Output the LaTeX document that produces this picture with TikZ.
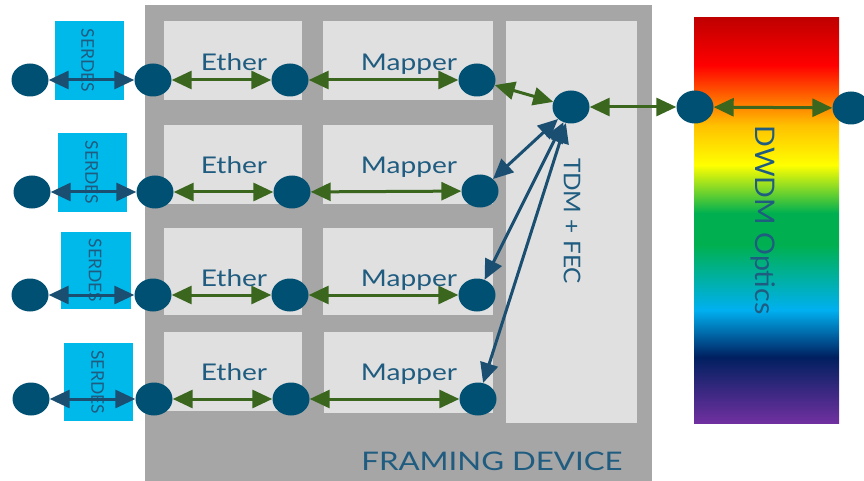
\documentclass[tikz,border=0pt]{standalone}
\usepackage{fontspec}
\setmainfont{Lato}
\newfontfamily\widefont{Lato}[FakeStretch=1.22]
\newfontfamily\midfont{Lato}[FakeStretch=1.06]
\usetikzlibrary{arrows.meta,shapes.geometric}
\definecolor{framegray}{HTML}{A6A6A6}
\definecolor{boxgray}{HTML}{E0E0E0}
\definecolor{serdescyan}{HTML}{00B9EB}
\definecolor{dotblue}{HTML}{005073}
\definecolor{txtblue}{HTML}{1F5C80}
\definecolor{arrgreen}{HTML}{3A661E}
\definecolor{arrblue}{HTML}{1A4F72}
\definecolor{cDR}{HTML}{C00000}
\definecolor{cR}{HTML}{FF0000}
\definecolor{cA}{HTML}{FFC000}
\definecolor{cY}{HTML}{FFFF00}
\definecolor{cG}{HTML}{00B050}
\definecolor{cLB}{HTML}{00B0F0}
\definecolor{cN}{HTML}{002060}
\definecolor{cP}{HTML}{7030A0}
\pgfdeclareverticalshading{dwdm}{100bp}{color(0bp)=(cP); color(25bp)=(cP); color(33.15bp)=(cN); color(38.95bp)=(cLB); color(46.98bp)=(cG); color(50.93bp)=(cG); color(56.85bp)=(cY); color(61.79bp)=(cA); color(69.2bp)=(cR); color(75bp)=(cDR); color(100bp)=(cDR)}
\tikzset{
  dot/.style={ellipse, fill=dotblue, minimum width=37pt, minimum height=33pt, inner sep=0pt},
  lbox/.style={fill=boxgray, inner sep=0pt, anchor=north west},
  sbox/.style={fill=serdescyan, inner sep=0pt, anchor=north west},
  lbl/.style={text=txtblue, font=\widefont\fontsize{23}{26}\selectfont, inner sep=0pt, anchor=base},
  rlbl/.style={text=txtblue, inner sep=0pt, rotate=-90},
  slbl/.style={text=txtblue, font=\fontsize{17.5}{20}\selectfont, inner sep=0pt, rotate=-90},
  tips/.style={{Triangle[length=20pt,width=18pt]}-{Triangle[length=20pt,width=18pt]}},
  garr/.style={draw=arrgreen, line width=3pt, tips},
  barr/.style={draw=arrblue, line width=3pt, tips}
}
\begin{document}
\begin{tikzpicture}[x=1pt,y=-1pt]
\useasboundingbox (0,0) rectangle (864,481);
% framing device
\node[fill=framegray, inner sep=0pt, anchor=north west, minimum width=507pt, minimum height=476pt] (frame) at (145,5) {};
\node[lbl, font=\widefont\fontsize{25.6}{28}\selectfont] (framelbl) at (492,470) {FRAMING DEVICE};
% light boxes
\node[lbox, minimum width=138pt, minimum height=79pt] (e1) at (164,21) {};
\node[lbox, minimum width=138pt, minimum height=79pt] (e2) at (164,125) {};
\node[lbox, minimum width=138pt, minimum height=87pt] (e3) at (164,228) {};
\node[lbox, minimum width=138pt, minimum height=79pt] (e4) at (164,332) {};
\node[lbox, minimum width=170pt, minimum height=79pt] (m1) at (323,21) {};
\node[lbox, minimum width=170pt, minimum height=79pt] (m2) at (323,125) {};
\node[lbox, minimum width=170pt, minimum height=87pt] (m3) at (323,228) {};
\node[lbox, minimum width=169pt, minimum height=81pt] (m4) at (324,332) {};
\node[lbox, minimum width=131pt, minimum height=402pt] (tdm) at (506,21) {};
% labels
\node[lbl] (le1) at (234,71) {Ether};
\node[lbl] (le2) at (234,174) {Ether};
\node[lbl] (le3) at (234,286) {Ether};
\node[lbl] (le4) at (234,380) {Ether};
\node[lbl] (lm1) at (409,71) {Mapper};
\node[lbl] (lm2) at (409,174) {Mapper};
\node[lbl] (lm3) at (409,286) {Mapper};
\node[lbl] (lm4) at (409,380) {Mapper};
\node[rlbl, font=\midfont\fontsize{23}{26}\selectfont] (ltdm) at (572,221) {TDM + FEC};
% serdes
\node[sbox, minimum width=69pt, minimum height=79pt] (s1) at (55,21) {};
\node[sbox, minimum width=69pt, minimum height=79pt] (s2) at (58,133) {};
\node[sbox, minimum width=70pt, minimum height=77pt] (s3) at (61,232) {};
\node[sbox, minimum width=69pt, minimum height=78pt] (s4) at (64,343) {};
\node[slbl] (ls1) at ([xshift=-2pt]s1.center) {SERDES};
\node[slbl] (ls2) at ([xshift=-1pt]s2.center) {SERDES};
\node[slbl] (ls3) at ([xshift=-1pt]s3.center) {SERDES};
\node[slbl] (ls4) at ([xshift=-1pt]s4.center) {SERDES};
% dwdm
\path[shading=dwdm] (694,18) rectangle (839,423);
\node[rlbl, font=\midfont\fontsize{27}{30}\selectfont] (ldwdm) at (763,220) {DWDM Optics};
% dots
\node[dot] (a1) at (30,80) {};
\node[dot] (b1) at (153,80) {};
\node[dot] (c1) at (290,80) {};
\node[dot] (d1) at (477,80) {};
\node[dot] (a2) at (32,192) {};
\node[dot] (b2) at (155,192) {};
\node[dot] (c2) at (292,192) {};
\node[dot] (d2) at (480,191) {};
\node[dot] (a3) at (30,295) {};
\node[dot] (b3) at (153,295) {};
\node[dot] (c3) at (290,295) {};
\node[dot] (d3) at (477,295) {};
\node[dot] (a4) at (31,399) {};
\node[dot] (b4) at (154,399) {};
\node[dot] (c4) at (291,399) {};
\node[dot] (d4) at (478,399) {};
\node[dot] (t) at (571,107) {};
\node[dot] (o1) at (695,107) {};
\node[dot] (o2) at (851,108) {};
% arrows
\foreach \r in {1,2,3,4}{
  \draw[barr] (a\r) -- (b\r);
  \draw[garr] (b\r) -- (c\r);
  \draw[garr] (c\r) -- (d\r);
}
\draw[garr] (d1) -- (t);
\draw[barr] (d2) -- (t);
\draw[barr] (d3) -- (t);
\draw[barr] (d4) -- (t);
\draw[garr] (t) -- (o1);
\draw[garr] (o1) -- (o2);
\end{tikzpicture}
\end{document}
